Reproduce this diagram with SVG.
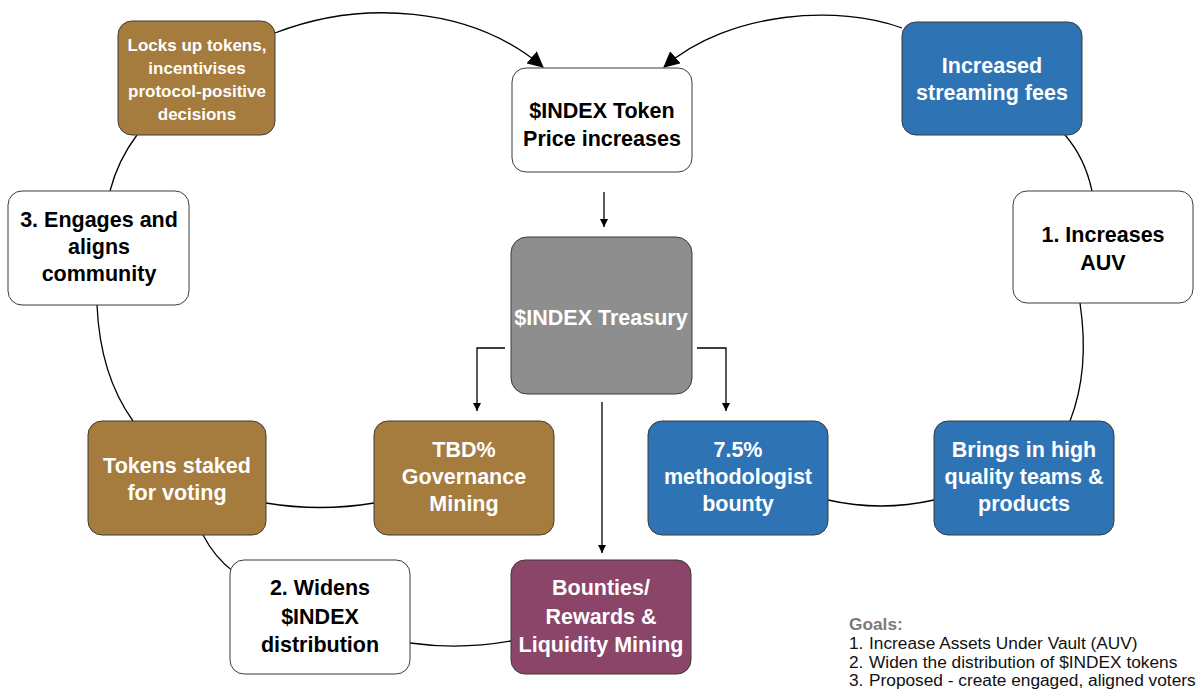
<svg xmlns="http://www.w3.org/2000/svg" width="1204" height="689" viewBox="0 0 1204 689">
<defs>
<style>
.box{stroke:#3a3a3a;stroke-width:1}
.w{fill:#ffffff}
.br{fill:#A57B3E}
.bl{fill:#2E74B5}
.gr{fill:#8E8E8E}
.pu{fill:#8A4568}
.t{font-family:"Liberation Sans",Arial,sans-serif;font-size:21.5px;font-weight:bold;text-anchor:middle}
.ts{font-size:17px}
.tw{fill:#ffffff}
.tb{fill:#000000}
.c{fill:none;stroke:#000;stroke-width:1.3}
.g{font-family:"Liberation Sans",Arial,sans-serif;font-size:17.3px;fill:#111}
</style>
<marker id="big" markerUnits="userSpaceOnUse" markerWidth="18" markerHeight="16" refX="15" refY="8" orient="auto">
<path d="M0,0 L16,8 L0,16 Z" fill="#000"/>
</marker>
<marker id="sm" markerUnits="userSpaceOnUse" markerWidth="10" markerHeight="10" refX="8" refY="4" orient="auto">
<path d="M0,0 L8,4 L0,8 Z" fill="#000"/>
</marker>
</defs>
<rect width="1204" height="689" fill="#fff"/>
<g id="connectors">
<path class="c" d="M275,33 C360,0 470,5 543,67" marker-end="url(#big)"/>
<path class="c" d="M902,28 C840,5 730,10 664,67" marker-end="url(#big)"/>
<path class="c" d="M1065,135 Q1085,158 1092,191"/>
<path class="c" d="M1080,303 Q1090,370 1070,421"/>
<path class="c" d="M828,500 Q881,512 934,500"/>
<path class="c" d="M137,135 Q118,160 110,191"/>
<path class="c" d="M97,305 Q100,375 133,421"/>
<path class="c" d="M266,503 Q320,512 374,503"/>
<path class="c" d="M203,535 Q215,558 234,572"/>
<path class="c" d="M410,643 Q460,650 511,641"/>
<path class="c" d="M604,192 L604,227" marker-end="url(#sm)"/>
<path class="c" d="M505,348 L477,348 L477,411" marker-end="url(#sm)"/>
<path class="c" d="M697,348 L726,348 L726,411" marker-end="url(#sm)"/>
<path class="c" d="M602,402 L602,553" marker-end="url(#sm)"/>
</g>
<g id="n-locks">
<rect class="box br" x="118" y="21" width="157" height="114" rx="14"/>
<text class="t ts tw"><tspan x="197" y="51">Locks up tokens,</tspan><tspan x="197" y="74">incentivises</tspan><tspan x="197" y="97">protocol-positive</tspan><tspan x="197" y="120">decisions</tspan></text>
</g>
<g id="n-price">
<rect class="box w" x="512" y="68" width="180" height="104" rx="14"/>
<text class="t tb"><tspan x="602" y="118">$INDEX Token</tspan><tspan x="602" y="146">Price increases</tspan></text>
</g>
<g id="n-fees">
<rect class="box bl" x="902" y="22" width="180" height="113" rx="14"/>
<text class="t tw"><tspan x="992" y="73">Increased</tspan><tspan x="992" y="100">streaming fees</tspan></text>
</g>
<g id="n-engages">
<rect class="box w" x="8" y="191" width="181" height="114" rx="14"/>
<text class="t tb"><tspan x="99" y="227">3. Engages and</tspan><tspan x="99" y="254">aligns</tspan><tspan x="99" y="281">community</tspan></text>
</g>
<g id="n-auv">
<rect class="box w" x="1013" y="191" width="180" height="112" rx="14"/>
<text class="t tb"><tspan x="1103" y="242">1. Increases</tspan><tspan x="1103" y="270">AUV</tspan></text>
</g>
<g id="n-treasury">
<rect class="box gr" x="511" y="237" width="181" height="157" rx="16"/>
<text class="t tw"><tspan x="601" y="325">$INDEX Treasury</tspan></text>
</g>
<g id="n-staked">
<rect class="box br" x="88" y="421" width="178" height="114" rx="14"/>
<text class="t tw"><tspan x="177" y="473">Tokens staked</tspan><tspan x="177" y="500">for voting</tspan></text>
</g>
<g id="n-gov">
<rect class="box br" x="374" y="421" width="180" height="114" rx="14"/>
<text class="t tw"><tspan x="464" y="457">TBD%</tspan><tspan x="464" y="484">Governance</tspan><tspan x="464" y="511">Mining</tspan></text>
</g>
<g id="n-bounty">
<rect class="box bl" x="648" y="421" width="180" height="114" rx="14"/>
<text class="t tw"><tspan x="738" y="457">7.5%</tspan><tspan x="738" y="484">methodologist</tspan><tspan x="738" y="511">bounty</tspan></text>
</g>
<g id="n-brings">
<rect class="box bl" x="934" y="421" width="180" height="114" rx="14"/>
<text class="t tw"><tspan x="1024" y="457">Brings in high</tspan><tspan x="1024" y="484">quality teams &amp;</tspan><tspan x="1024" y="511">products</tspan></text>
</g>
<g id="n-widens">
<rect class="box w" x="230" y="560" width="180" height="114" rx="14"/>
<text class="t tb"><tspan x="320" y="595">2. Widens</tspan><tspan x="320" y="624">$INDEX</tspan><tspan x="320" y="652">distribution</tspan></text>
</g>
<g id="n-bounties">
<rect class="box pu" x="511" y="560" width="180" height="114" rx="14"/>
<text class="t tw"><tspan x="601" y="595">Bounties/</tspan><tspan x="601" y="624">Rewards &amp;</tspan><tspan x="601" y="652">Liquidity Mining</tspan></text>
</g>
<g id="goals">
<text class="g" x="849" y="630" style="font-weight:bold;fill:#7a7a7a">Goals:</text>
<text class="g" y="649"><tspan x="849">1.</tspan><tspan x="869">Increase Assets Under Vault (AUV)</tspan></text>
<text class="g" y="668"><tspan x="849">2.</tspan><tspan x="869">Widen the distribution of $INDEX tokens</tspan></text>
<text class="g" y="686"><tspan x="849">3.</tspan><tspan x="869">Proposed - create engaged, aligned voters</tspan></text>
</g>
</svg>
